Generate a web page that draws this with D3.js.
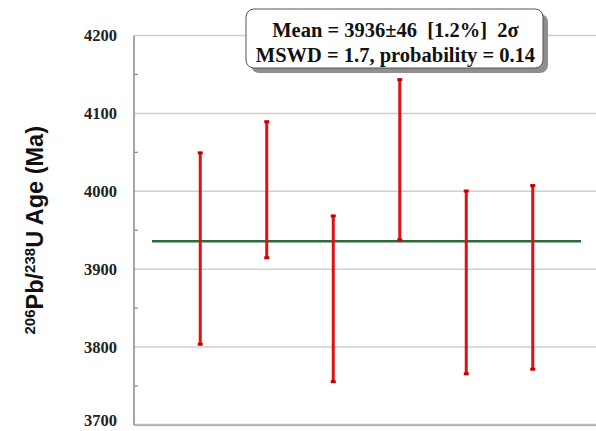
<!DOCTYPE html>
<html>
<head>
<meta charset="utf-8">
<script src="https://cdn.jsdelivr.net/npm/d3@7"></script>
<style>
  html, body { margin: 0; padding: 0; background: #fff; }
  svg { display: block; }
</style>
</head>
<body>
<div id="chart"></div>
<script>
// ---------- données ----------
const spots = [1, 2, 3, 4, 5, 6];
const ageHigh = [4050, 4090, 3969, 4144, 4001, 4008];
const ageLow  = [3803, 3914, 3755, 3937, 3765, 3771];
const yTicks = [3700, 3800, 3900, 4000, 4100, 4200];
const minorTicks = [3750, 3850, 3950, 4050, 4150];
const meanAge = 3936;
const boxLines = ["Mean = 3936\u00b146  [1.2%]  2\u03c3", "MSWD = 1.7, probability = 0.14"];

const W = 596, H = 431;
const m = { top: 35.5, right: 0, bottom: 6, left: 134 };

const svg = d3.select("#chart").append("svg")
  .attr("width", W).attr("height", H);

const y = d3.scaleLinear().domain([3700, 4200]).range([H - m.bottom, m.top]);
const x = d3.scaleLinear().domain([0.5, 6.5]).range([167, 566]);

// Grille
svg.append("g")
  .selectAll("line")
  .data(yTicks.slice(1))
  .enter().append("line")
    .attr("x1", m.left).attr("x2", W)
    .attr("y1", d => y(d)).attr("y2", d => y(d))
    .attr("stroke", "#cfcfcf").attr("stroke-width", 1.5);

// Axe bas
svg.append("line")
  .attr("x1", m.left).attr("x2", W)
  .attr("y1", y(3700)).attr("y2", y(3700))
  .attr("stroke", "#b8b8b8").attr("stroke-width", 2.5);

// Axe gauche
svg.append("line")
  .attr("x1", m.left).attr("x2", m.left)
  .attr("y1", y(4200)).attr("y2", y(3700))
  .attr("stroke", "#8a8a8a").attr("stroke-width", 1.5);

svg.append("g")
  .selectAll("line")
  .data(minorTicks)
  .enter().append("line")
    .attr("x1", m.left).attr("x2", m.left + 4)
    .attr("y1", d => y(d)).attr("y2", d => y(d))
    .attr("stroke", "#8a8a8a").attr("stroke-width", 1.2);

// Labels y
svg.append("g")
  .selectAll("text")
  .data(yTicks)
  .enter().append("text")
    .attr("x", 117).attr("y", d => Math.min(y(d) + 5.5, H - 5))
    .attr("text-anchor", "end")
    .attr("font-family", "'Liberation Serif', 'Times New Roman', serif")
    .attr("font-weight", "bold").attr("font-size", 16.5)
    .attr("fill", "#222")
    .text(d => d);

// Titre axe y
const yt = svg.append("text")
  .attr("transform", `translate(43,${(y(4200) + y(3700)) / 2}) rotate(-90)`)
  .attr("text-anchor", "middle")
  .attr("font-family", "'Liberation Sans', Arial, sans-serif")
  .attr("font-weight", "bold").attr("font-size", 23.5)
  .attr("fill", "#111");
yt.append("tspan").attr("font-size", 15).attr("dy", -8).text("206");
yt.append("tspan").attr("dy", 8).text("Pb/");
yt.append("tspan").attr("font-size", 15).attr("dy", -8).text("238");
yt.append("tspan").attr("dy", 8).text("U Age (Ma)");

// Ligne moyenne
svg.append("line")
  .attr("x1", 152).attr("x2", 581)
  .attr("y1", y(meanAge)).attr("y2", y(meanAge))
  .attr("stroke", "#2f6a3e").attr("stroke-width", 2.5);

// Barres d'erreur
const bars = svg.append("g").selectAll("g")
  .data(spots)
  .enter().append("g");

bars.append("line")
  .attr("x1", d => x(d)).attr("x2", d => x(d))
  .attr("y1", (d, i) => y(ageHigh[i])).attr("y2", (d, i) => y(ageLow[i]))
  .attr("stroke", "#e01010").attr("stroke-width", 3);

bars.append("rect")
  .attr("x", d => x(d) - 2.5).attr("y", (d, i) => y(ageHigh[i]) - 1)
  .attr("width", 5).attr("height", 3)
  .attr("fill", "#c80000");

bars.append("rect")
  .attr("x", d => x(d) - 2.5).attr("y", (d, i) => y(ageLow[i]) - 2)
  .attr("width", 5).attr("height", 3)
  .attr("fill", "#c80000");

// Boîte de résultat
const bx = 246, by = 9, bw = 297, bh = 59;
svg.append("rect")
  .attr("x", bx + 5).attr("y", by + 5)
  .attr("width", bw).attr("height", bh)
  .attr("rx", 8)
  .attr("fill", "#8f8f8f");
svg.append("rect")
  .attr("x", bx).attr("y", by)
  .attr("width", bw).attr("height", bh)
  .attr("rx", 8)
  .attr("fill", "#fff").attr("stroke", "#555").attr("stroke-width", 1);

svg.append("g")
  .selectAll("text")
  .data(boxLines)
  .enter().append("text")
    .attr("x", bx + bw / 2 + 1).attr("y", (d, i) => by + 28 + i * 25)
    .attr("text-anchor", "middle")
    .attr("font-family", "'Liberation Serif', 'Times New Roman', serif")
    .attr("font-weight", "bold").attr("font-size", 20.5)
    .attr("fill", "#111")
    .style("white-space", "pre")
    .text(d => d);
</script>
</body>
</html>
